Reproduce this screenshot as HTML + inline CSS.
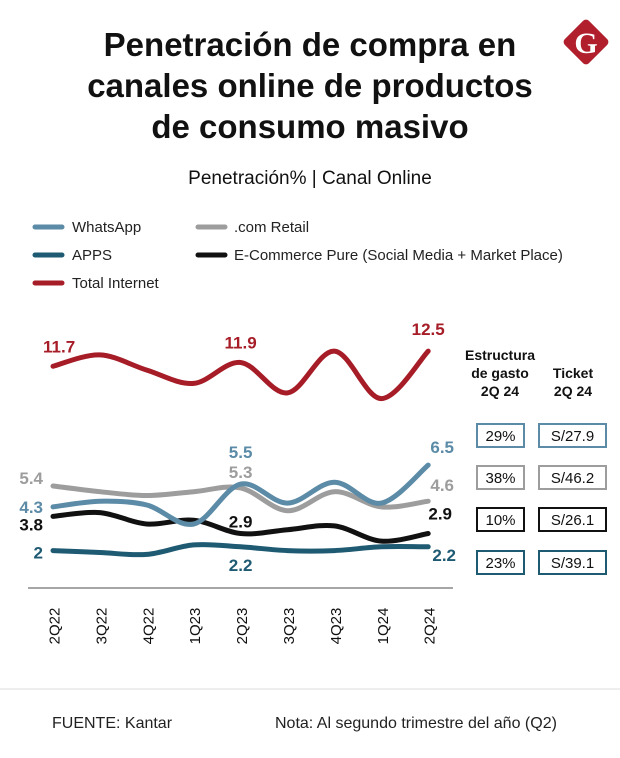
<!DOCTYPE html>
<html><head><meta charset="utf-8">
<style>
body{margin:0;background:#fff;font-family:"Liberation Sans",sans-serif;}
#wrap{position:relative;width:620px;height:758px;overflow:hidden;background:#fff}
</style></head><body>
<div id="wrap">
<svg id="chart" width="620" height="758" xmlns="http://www.w3.org/2000/svg" font-family="Liberation Sans, sans-serif">
  <g font-weight="bold" font-size="33" text-anchor="middle" fill="#111">
    <text x="310" y="56">Penetración de compra en</text>
    <text x="310" y="97">canales  online de productos</text>
    <text x="310" y="138">de consumo masivo</text>
  </g>
  <g>
    <rect x="569" y="25" width="34" height="34" rx="4" fill="#b01f2b" transform="rotate(45 586 42)"/>
    <text x="586" y="53" text-anchor="middle" font-size="30" font-weight="bold" fill="#fff" font-family="Liberation Serif, serif">G</text>
  </g>
  <text x="310" y="184" text-anchor="middle" font-size="19" fill="#111">Penetración% | Canal Online</text>
  <g font-size="15" fill="#222">
    <g><line x1="35" y1="227" x2="62" y2="227" stroke="#5b8ba6" stroke-width="5" stroke-linecap="round"/><text x="72" y="232">WhatsApp</text></g>
    <g><line x1="198" y1="227" x2="225" y2="227" stroke="#9d9d9d" stroke-width="5" stroke-linecap="round"/><text x="234" y="232">.com Retail</text></g>
    <g><line x1="35" y1="255" x2="62" y2="255" stroke="#1f5a73" stroke-width="5" stroke-linecap="round"/><text x="72" y="260">APPS</text></g>
    <g><line x1="198" y1="255" x2="225" y2="255" stroke="#111" stroke-width="5" stroke-linecap="round"/><text x="234" y="260">E-Commerce Pure (Social Media + Market Place)</text></g>
    <g><line x1="35" y1="283" x2="62" y2="283" stroke="#a61c27" stroke-width="5" stroke-linecap="round"/><text x="72" y="288">Total Internet</text></g>
  </g>
  <line x1="28" y1="588" x2="453" y2="588" stroke="#888" stroke-width="1.5"/>
  <g id="series"></g>
  <g id="xlabels"></g>
  <g font-size="14" font-weight="bold" text-anchor="middle" fill="#111">
    <text x="500" y="360">Estructura</text>
    <text x="500" y="378">de gasto</text>
    <text x="500" y="396">2Q 24</text>
    <text x="573" y="378">Ticket</text>
    <text x="573" y="396">2Q 24</text>
  </g>
  <g id="boxes"></g>
  <line x1="0" y1="689" x2="620" y2="689" stroke="#ddd" stroke-width="1"/>
  <text x="52" y="728" font-size="16" fill="#222">FUENTE: Kantar</text>
  <text x="275" y="728" font-size="16" fill="#222">Nota: Al segundo trimestre del año  (Q2)</text>
</svg>
</div>
<script>
const categories = ["2Q22","3Q22","4Q22","1Q23","2Q23","3Q23","4Q23","1Q24","2Q24"];
const totalInternet = [11.7,12.3,11.5,10.8,11.9,10.3,12.5,10.0,12.5];
const whatsapp = [4.3,4.6,4.4,3.4,5.5,4.5,5.6,4.5,6.5];
const comRetail = [5.4,5.1,4.9,5.1,5.3,4.1,5.1,4.3,4.6];
const ecommercePure = [3.8,4.0,3.4,3.6,2.9,3.1,3.3,2.5,2.9];
const apps = [2.0,1.9,1.8,2.3,2.2,2.0,2.0,2.2,2.2];
const shareValues = ["29%","38%","10%","23%"];
const ticketValues = ["S/27.9","S/46.2","S/26.1","S/39.1"];

const NS="http://www.w3.org/2000/svg";
function xScale(i){return 53+i*46.9;}
function yScale(v){return 486-19*(v-5.4);}
function mk(tag,attrs,parent){const e=document.createElementNS(NS,tag);for(const k in attrs)e.setAttribute(k,attrs[k]);parent.appendChild(e);return e;}
function smoothPath(vals){
  const p=vals.map((v,i)=>[xScale(i),yScale(v)]);
  let d="M"+p[0][0]+","+p[0][1];
  for(let i=0;i<p.length-1;i++){
    const p0=p[i-1]||p[i],p1=p[i],p2=p[i+1],p3=p[i+2]||p2;
    const c1=[p1[0]+(p2[0]-p0[0])/6,p1[1]+(p2[1]-p0[1])/6];
    const c2=[p2[0]-(p3[0]-p1[0])/6,p2[1]-(p3[1]-p1[1])/6];
    d+=" C"+c1+" "+c2+" "+p2;
  }
  return d;
}
const g=document.getElementById("series");
const seriesList=[
 {name:"line-total-internet",vals:totalInternet,color:"#a61c27"},
 {name:"line-apps",vals:apps,color:"#1f5a73"},
 {name:"line-ecommerce-pure",vals:ecommercePure,color:"#111111"},
 {name:"line-com-retail",vals:comRetail,color:"#9d9d9d"},
 {name:"line-whatsapp",vals:whatsapp,color:"#5b8ba6"}
];
seriesList.forEach(s=>{
  const path=mk("path",{d:smoothPath(s.vals),fill:"none",stroke:s.color,"stroke-width":5,"stroke-linecap":"round"},g);
  
  
});
const labelSpecs=[
 [totalInternet,0,-10,-14,"start","#a61c27"],[totalInternet,4,0,-14,"middle","#a61c27"],[totalInternet,8,0,-16,"middle","#a61c27"],
 [comRetail,0,-10,-2,"end","#9d9d9d"],[comRetail,4,0,-10,"middle","#9d9d9d"],[comRetail,8,14,-10,"middle","#9d9d9d"],
 [whatsapp,0,-10,6,"end","#5b8ba6"],[whatsapp,4,0,-26,"middle","#5b8ba6"],[whatsapp,8,14,-12,"middle","#5b8ba6"],
 [ecommercePure,0,-10,14,"end","#111"],[ecommercePure,4,0,-6,"middle","#111"],[ecommercePure,8,12,-14,"middle","#111"],
 [apps,0,-10,8,"end","#1f5a73"],[apps,4,0,24,"middle","#1f5a73"],[apps,8,16,14,"middle","#1f5a73"]
];
labelSpecs.forEach(l=>{
  const t=mk("text",{x:xScale(l[1])+l[2],y:yScale(l[0][l[1]])+l[3],"text-anchor":l[4],fill:l[5],"font-size":17,"font-weight":"bold"},g);
  t.textContent=String(l[0][l[1]]);
  
  
});
const xl=document.getElementById("xlabels");
categories.forEach((c,i)=>{
  const x=xScale(i)+2;
  const t=mk("text",{x:x,y:626,transform:"rotate(-90 "+x+" 626)","text-anchor":"middle","dominant-baseline":"central","font-size":15,fill:"#111"},xl);
  t.textContent=c;
  
  
});
const bx=document.getElementById("boxes");
const boxColors=["#5b8ba6","#9d9d9d","#111111","#1f5a73"];
const rowTops=[424,466,508,551];
shareValues.forEach((v,i)=>{
  const r1=mk("rect",{x:477,y:rowTops[i],width:47,height:23,fill:"#fff",stroke:boxColors[i],"stroke-width":2},bx);
  
  
  const t1=mk("text",{x:500.5,y:rowTops[i]+17,"text-anchor":"middle","font-size":15,fill:"#111"},bx);
  t1.textContent=v;
  
  
  const r2=mk("rect",{x:539,y:rowTops[i],width:67,height:23,fill:"#fff",stroke:boxColors[i],"stroke-width":2},bx);
  
  
  const t2=mk("text",{x:572.5,y:rowTops[i]+17,"text-anchor":"middle","font-size":15,fill:"#111"},bx);
  t2.textContent=ticketValues[i];
  
  
});
</script>
</body></html>
